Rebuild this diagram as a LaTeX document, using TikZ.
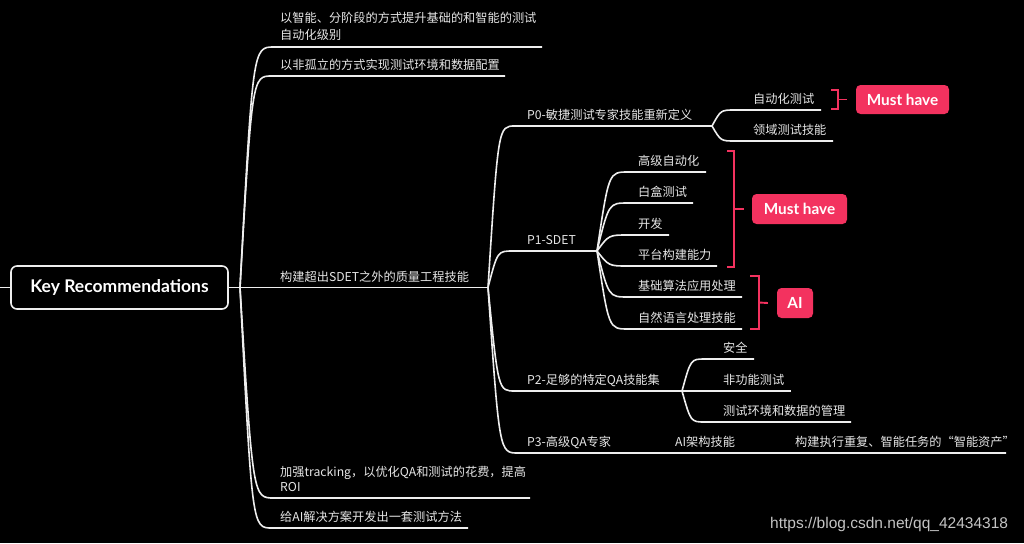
\documentclass[tikz,border=0pt]{standalone}
\usepackage{fontspec}
\usetikzlibrary{calc}
\newfontfamily\cjk{Noto Sans CJK SC}
\newfontfamily\tagfont{Lato}
\newfontfamily\wmfont{Liberation Sans}
\definecolor{linecol}{RGB}{238,238,238}
\definecolor{textcol}{RGB}{230,230,230}
\definecolor{pinkc}{RGB}{243,50,95}
\definecolor{wmc}{RGB}{196,196,196}
\newcommand{\mmcurve}[3]{\draw[ln] (#1) .. controls ($(#1|-#2)!0.38!(#2)$) .. (#2) -- (#3);}
\tikzset{
  ln/.style={draw=linecol, line width=1.6pt},
  lbl/.style={anchor=base west, inner sep=0pt, text=textcol, font=\cjk\fontsize{12.2}{16}\selectfont},
  br/.style={draw=pinkc, line width=1.9pt},
  tag/.style={fill=pinkc, rounded corners=4.5pt, text=white, inner sep=0pt,
    font=\tagfont\bfseries\fontsize{15.3}{18}\selectfont},
  rootbox/.style={draw=linecol, line width=1.6pt, fill=black, rounded corners=6pt,
    minimum width=217pt, minimum height=43pt, inner sep=0pt, text=white,
    font=\tagfont\bfseries\fontsize{17.5}{20}\selectfont}
}
\begin{document}
\begin{tikzpicture}[x=1pt,y=-1pt]
\fill[black] (0,0) rectangle (1024,543);
\useasboundingbox (0,0) rectangle (1024,543);

% root
\node[rootbox] (root) at (119.5,287.5) {Key Recommendations};
\coordinate (lstub) at (0,287.5);
\draw[ln] (lstub) -- (root.west);
\coordinate (r) at (240,287.5);
\coordinate (f3) at (488,287.5);
\draw[ln] (root.east) -- (f3);

% level 1
\coordinate (b1s) at (274,47);  \coordinate (b1e) at (542,47);
\coordinate (b2s) at (272,76);  \coordinate (b2e) at (505,76);
\coordinate (b4s) at (274,498); \coordinate (b4e) at (530,498);
\coordinate (b5s) at (272,528); \coordinate (b5e) at (468,528);
\mmcurve{r}{b1s}{b1e}
\mmcurve{r}{b2s}{b2e}
\mmcurve{r}{b4s}{b4e}
\mmcurve{r}{b5s}{b5e}
\node[lbl] (t1a) at (280,23) {以智能、分阶段的方式提升基础的和智能的测试};
\node[lbl] (t1b) at (280,40) {自动化级别};
\node[lbl] (t2) at (280,69) {以非孤立的方式实现测试环境和数据配置};
\node[lbl] (t3) at (280,281) {构建超出SDET之外的质量工程技能};
\node[lbl] (t4a) at (280,476) {加强tracking，以优化QA和测试的花费，提高};
\node[lbl] (t4b) at (280,491) {ROI};
\node[lbl] (t5) at (280,521) {给AI解决方案开发出一套测试方法};

% level 2
\coordinate (p0s) at (515,126); \coordinate (f0) at (712,126);
\coordinate (p1s) at (513,251); \coordinate (f1) at (597,251);
\coordinate (p2s) at (515,391); \coordinate (f2) at (682,391);
\coordinate (p3s) at (518,453); \coordinate (p3e) at (1006,453);
\mmcurve{f3}{p0s}{f0}
\mmcurve{f3}{p1s}{f1}
\mmcurve{f3}{p2s}{f2}
\mmcurve{f3}{p3s}{p3e}
\node[lbl] (p0) at (527,119) {P0-敏捷测试专家技能重新定义};
\node[lbl] (p1) at (527,244) {P1-SDET};
\node[lbl] (p2) at (527,384) {P2-足够的特定QA技能集};
\node[lbl] (p3) at (527,446) {P3-高级QA专家};
\node[lbl] (p3a) at (675,446) {AI架构技能};
\node[lbl] (p3b) at (795,446) {构建执行重复、智能任务的“智能资产”};

% P0 children
\coordinate (c01s) at (735,110); \coordinate (c01e) at (821,110);
\coordinate (c02s) at (735,141); \coordinate (c02e) at (833,141);
\mmcurve{f0}{c01s}{c01e}
\mmcurve{f0}{c02s}{c02e}
\node[lbl] (c01) at (753,103) {自动化测试};
\node[lbl] (c02) at (753,134) {领域测试技能};

% P1 children
\coordinate (c11s) at (628,172); \coordinate (c11e) at (706,172);
\coordinate (c12s) at (628,203); \coordinate (c12e) at (693,203);
\coordinate (c13s) at (628,235); \coordinate (c13e) at (669,235);
\coordinate (c14s) at (628,266); \coordinate (c14e) at (717,266);
\coordinate (c15s) at (628,297); \coordinate (c15e) at (742,297);
\coordinate (c16s) at (628,329); \coordinate (c16e) at (742,329);
\mmcurve{f1}{c11s}{c11e}
\mmcurve{f1}{c12s}{c12e}
\mmcurve{f1}{c13s}{c13e}
\mmcurve{f1}{c14s}{c14e}
\mmcurve{f1}{c15s}{c15e}
\mmcurve{f1}{c16s}{c16e}
\node[lbl] (c11) at (638,165) {高级自动化};
\node[lbl] (c12) at (638,196) {白盒测试};
\node[lbl] (c13) at (638,228) {开发};
\node[lbl] (c14) at (638,259) {平台构建能力};
\node[lbl] (c15) at (638,290) {基础算法应用处理};
\node[lbl] (c16) at (638,322) {自然语言处理技能};

% P2 children
\coordinate (c21s) at (705,359); \coordinate (c21e) at (754,359);
\coordinate (c22e) at (791,391);
\coordinate (c23s) at (705,422); \coordinate (c23e) at (851,422);
\mmcurve{f2}{c21s}{c21e}
\draw[ln] (f2) -- (c22e);
\mmcurve{f2}{c23s}{c23e}
\node[lbl] (c21) at (723,352) {安全};
\node[lbl] (c22) at (723,384) {非功能测试};
\node[lbl] (c23) at (723,415) {测试环境和数据的管理};

% tags and brackets
\node[tag, minimum width=93pt, minimum height=29pt] (mh1) at (902.5,99.5) {Must have};
\node[tag, minimum width=95pt, minimum height=30pt] (mh2) at (799.5,209) {Must have};
\node[tag, minimum width=36pt, minimum height=30pt] (ai) at (795,303) {AI};

\coordinate (br1) at (838,99.5);
\draw[br] ($(br1)+(-7,-9.5)$) -- ++(7,0) -- ++(0,19) -- ++(-7,0);
\draw[br] (br1) -- ($(mh1.west)+(-9,0)$);

\coordinate (br2) at (734,209);
\draw[br] ($(br2)+(-7,-58)$) -- ++(7,0) -- ++(0,116) -- ++(-7,0);
\draw[br] (br2) -- ($(mh2.west)+(-8,0)$);

\coordinate (br3) at (759,302.5);
\draw[br] ($(br3)+(-9,-26.5)$) -- ++(9,0) -- ++(0,53) -- ++(-9,0);
\draw[br] (br3) -- ($(ai.west)+(-9,0)$);

% watermark
\node[anchor=base west, inner sep=0pt, text=wmc, font=\wmfont\fontsize{15.5}{18}\selectfont] (wm) at (770,528.5) {https://blog.csdn.net/qq\_42434318};
\end{tikzpicture}
\end{document}
